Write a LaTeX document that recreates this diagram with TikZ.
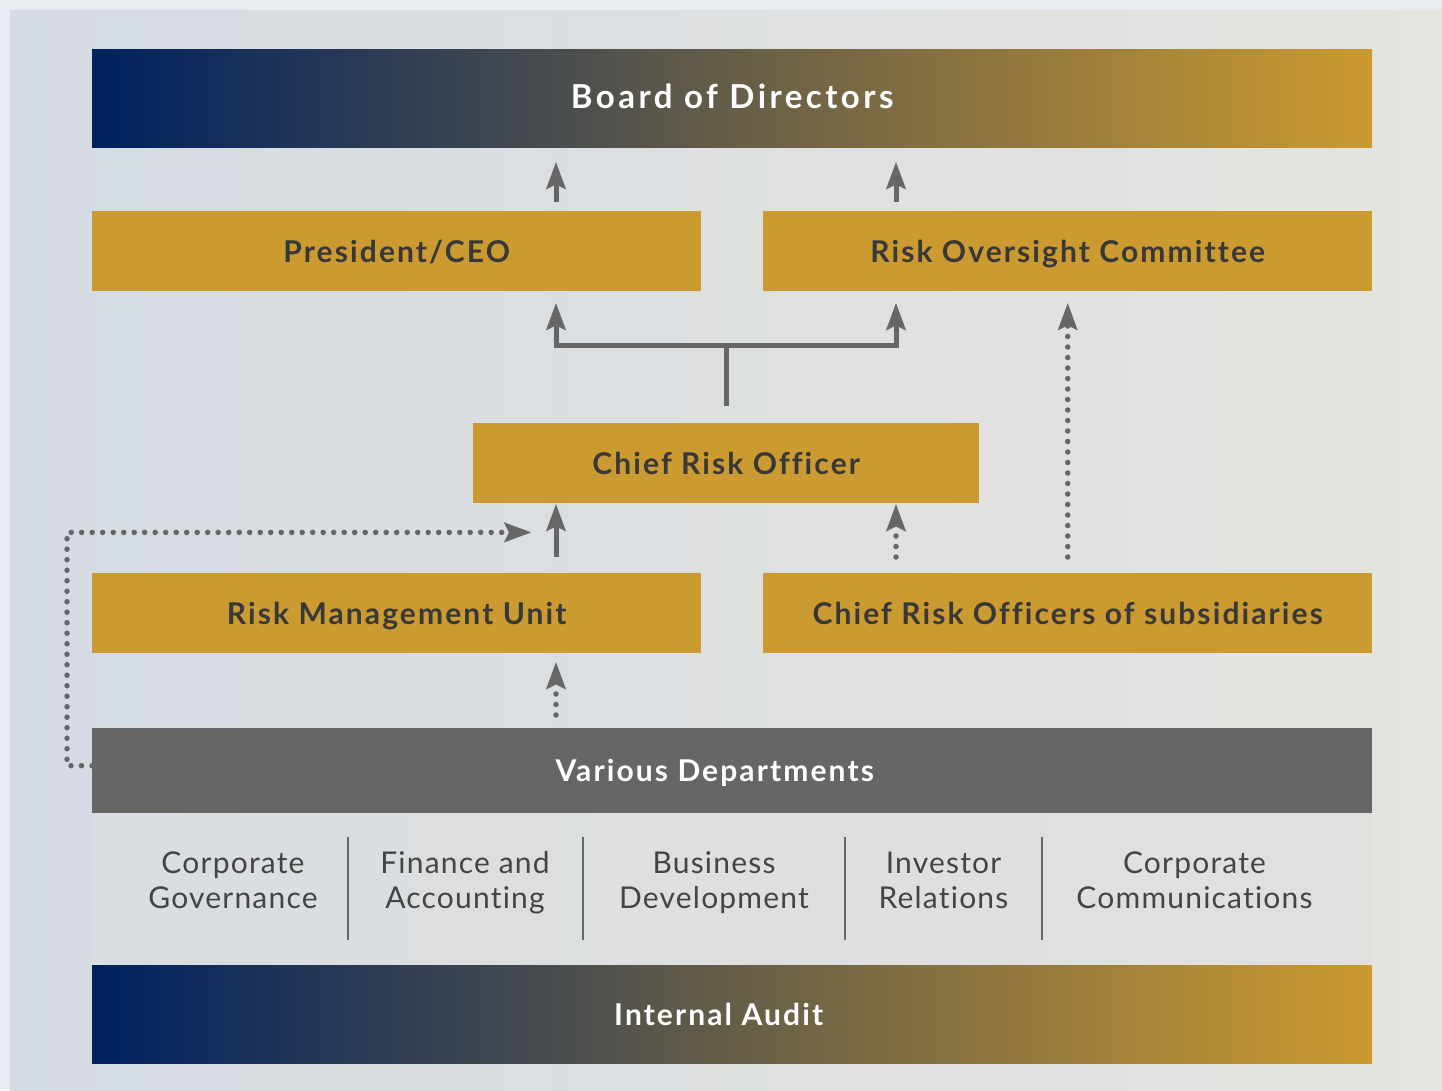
\documentclass[tikz,border=0pt]{standalone}
\usepackage{fontspec}
\setmainfont{Lato}[Ligatures=NoCommon]
\newfontfamily\headfont{Lato}[LetterSpace=7.0, Ligatures=NoCommon]
\newfontfamily\titlefont{Lato}[LetterSpace=10.5, Ligatures=NoCommon]
\newfontfamily\deptfont{Lato}[LetterSpace=4.0, Ligatures=NoCommon]
\usetikzlibrary{arrows.meta,calc}

\definecolor{navy}{RGB}{0,33,95}
\definecolor{midtone}{RGB}{82,83,78}
\definecolor{gold}{RGB}{203,154,48}
\definecolor{slate}{RGB}{102,102,102}
\definecolor{inkdark}{RGB}{56,56,56}
\definecolor{inkdept}{RGB}{68,68,68}
\definecolor{pageedge}{RGB}{233,236,240}
\definecolor{panelleft}{RGB}{213,219,227}
\definecolor{panelright}{RGB}{229,228,223}
\definecolor{stripfill}{RGB}{222,223,224}

\tikzset{
  boxfont/.style={font=\headfont\bfseries\fontsize{30}{36}\selectfont,
    text height=21.8pt, text depth=0pt},
  bigfont/.style={font=\titlefont\bfseries\fontsize{33}{40}\selectfont,
    text height=19.8pt, text depth=0pt},
  goldbox/.style={boxfont, anchor=north west, fill=gold, text=inkdark,
    minimum width=609pt, minimum height=80pt, inner sep=0pt},
  barbox/.style={boxfont, anchor=north west, left color=navy, middle color=midtone,
    right color=gold, text=white, minimum width=1280pt, minimum height=98pt, inner sep=0pt},
  deptbox/.style={boxfont, anchor=north west, fill=slate, text=white,
    minimum width=1280pt, minimum height=85pt, inner sep=0pt},
  deptname/.style={font=\deptfont\fontsize{30}{35}\selectfont, text=inkdept, align=center,
    inner sep=0pt, text height=22pt, text depth=0pt, anchor=base},
  solidarrow/.style={draw=slate, line width=5pt,
    -{Stealth[length=27pt, width=20pt, inset=5pt, line width=0.1pt]}},
  dotarrow/.style={draw=slate, line width=5.5pt, line cap=round, dash pattern=on 0pt off 10.5pt,
    -{Stealth[length=27pt, width=20pt, inset=5pt, line width=0.1pt]}},
  plainline/.style={draw=slate, line width=5pt},
  divider/.style={draw=slate, line width=2.5pt}
}

\begin{document}
\begin{tikzpicture}[x=1pt, y=-1pt]
  \useasboundingbox (0,0) rectangle (1442,1090);
  % page and panel background
  \fill[pageedge] (0,0) rectangle (1442,1090);
  \shade[left color=panelleft, right color=panelright] (10,10) rectangle (1442,1090);

  % boxes
  \node[barbox, bigfont] (board) at (92,49) {Board of Directors};
  \node[goldbox] (ceo) at (92,211) {President/CEO};
  \node[goldbox] (roc) at (763,211) {Risk Oversight Committee};
  \node[goldbox, minimum width=506pt] (cro) at (473,423) {Chief Risk Officer};
  \node[goldbox] (rmu) at (92,573) {Risk Management Unit};
  \node[goldbox] (cros) at (763,573) {Chief Risk Officers of subsidiaries};
  \node[deptbox] (dept) at (92,728) {Various Departments\hspace{35pt}\mbox{}};

  % department strip
  \fill[stripfill, fill opacity=0.5] (dept.south west) rectangle ($(dept.south east)+(0,152)$);
  \node[deptname] (cg) at (233,908) {Corporate\\Governance};
  \node[deptname] (fa) at (465,908) {Finance and\\Accounting};
  \node[deptname] (bd) at (714,908) {Business\\Development};
  \node[deptname] (ir) at (943.5,908) {Investor\\Relations};
  \node[deptname] (cc) at (1194.5,908) {Corporate\\Communications};
  \foreach \x in {348,583,845,1042}
    \draw[divider] (\x,837) -- (\x,940);

  \node[barbox] (audit) at (92,965) {Internal Audit\hspace{27pt}\mbox{}};

  % reporting lines to the board
  \draw[solidarrow] ($(ceo.north west)+(464,-9)$) -- ($(board.south west)+(464,15)$);
  \draw[solidarrow] ($(roc.north west)+(133,-9)$) -- ($(board.south west)+(804,15)$);

  % chief risk officer reports to both
  \coordinate (fork) at ($(cro.north)+(0,-78)$);
  \draw[plainline] ($(cro.north)+(0,-17)$) -- (fork);
  \draw[plainline, line join=miter,
    {Stealth[length=27pt, width=20pt, inset=5pt, line width=0.1pt]}-{Stealth[length=27pt, width=20pt, inset=5pt, line width=0.1pt]}]
    ($(ceo.south west)+(464,12)$) |- (fork) -| ($(roc.south west)+(133,12)$);

  % into the chief risk officer
  \draw[solidarrow] ($(rmu.north west)+(464,-16)$) -- ($(cro.south west)+(83,1)$);
  \draw[dotarrow] ($(cros.north west)+(133,-16)$) -- ($(cro.south west)+(423,1)$);

  % subsidiaries to the oversight committee
  \draw[dotarrow] ($(cros.north)+(0,-16)$) -- ($(roc.south)+(0,12)$);

  % departments upwards
  \draw[dotarrow] ($(dept.north west)+(464,-13)$) -- ($(rmu.south west)+(464,9)$);
  \draw[dotarrow] ($(dept.west)+(0,-5)$) -- ++(-25,0) |- ($(cro.south west)+(58,29)$);
\end{tikzpicture}
\end{document}
